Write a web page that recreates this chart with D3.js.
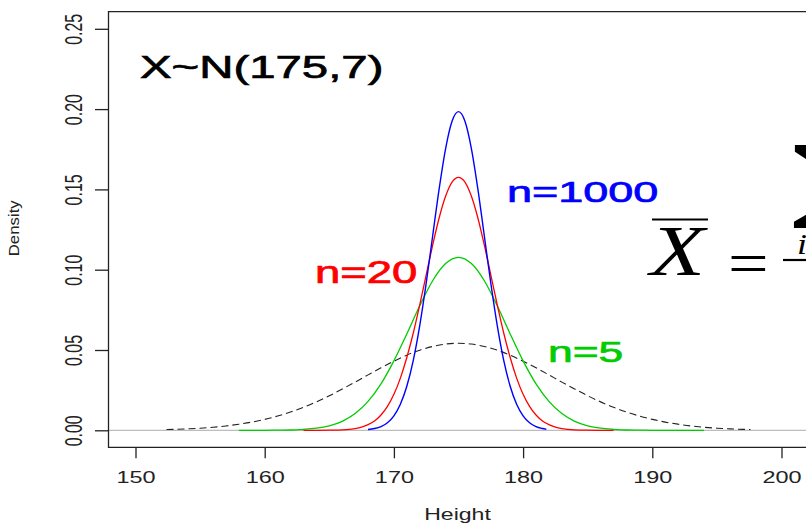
<!DOCTYPE html>
<html>
<head>
<meta charset="utf-8">
<script src="https://cdn.jsdelivr.net/npm/d3@7"></script>
<style>
  html, body { margin: 0; padding: 0; background: #fff; overflow: hidden; }
  svg { display: block; }
</style>
</head>
<body>
<script>
// ---------- data ----------
const xTicks = [150, 160, 170, 180, 190, 200];
const yTicks = [0, 0.05, 0.10, 0.15, 0.20, 0.25];
const yTickLabels = ["0.00", "0.05", "0.10", "0.15", "0.20", "0.25"];

// population X ~ N(175,7) (black dashed)
const popX = [152.4,153,154,155,156,157,158,159,160,161,162,163,164,165,166,167,168,169,170,171,172,173,174,175,
              176,177,178,179,180,181,182,183,184,185,186,187,188,189,190,191,192,193,194,195,196,197,197.6];
const popY = [0.0005,0.0006,0.0009,0.0013,0.0019,0.0027,0.0038,0.0051,0.0068,0.0089,0.0114,0.0143,0.0177,0.0215,
              0.0257,0.0300,0.0345,0.0389,0.0430,0.0468,0.0499,0.0522,0.0537,0.0542,
              0.0537,0.0522,0.0499,0.0468,0.0430,0.0389,0.0345,0.0300,0.0257,0.0215,0.0177,0.0143,0.0114,0.0089,
              0.0068,0.0051,0.0038,0.0027,0.0019,0.0013,0.0009,0.0006,0.0005];

// sample mean, n = 5 (green)
const n5X = [158,159,160,161,162,163,164,165,166,167,168,169,170,171,172,173,174,175,
             176,177,178,179,180,181,182,183,184,185,186,187,188,189,190,191,192,193,194];
const n5Y = [0.0000,0.0000,0.0000,0.0001,0.0002,0.0006,0.0013,0.0028,0.0056,0.0104,0.0180,0.0289,0.0432,0.0600,
             0.0775,0.0931,0.1038,0.1077,
             0.1038,0.0931,0.0775,0.0600,0.0432,0.0289,0.0180,0.0104,0.0056,0.0028,0.0013,0.0006,0.0002,0.0001,
             0.0000,0.0000,0.0000,0.0000,0.0000];

// sample mean, n = 20 (red)
const n20X = [163,164,165,166,167,167.5,168,168.5,169,169.5,170,170.5,171,171.5,172,172.5,173,173.5,174,174.5,175,
              175.5,176,176.5,177,177.5,178,178.5,179,179.5,180,180.5,181,181.5,182,182.5,183,184,185,186,187];
const n20Y = [0.0000,0.0000,0.0001,0.0003,0.0011,0.0020,0.0035,0.0058,0.0095,0.0149,0.0224,0.0325,0.0453,0.0606,
              0.0781,0.0968,0.1153,0.1322,0.1457,0.1545,0.1575,
              0.1545,0.1457,0.1322,0.1153,0.0968,0.0781,0.0606,0.0453,0.0325,0.0224,0.0149,0.0095,0.0058,0.0035,
              0.0020,0.0011,0.0003,0.0001,0.0000,0.0000];

// sample mean, n = 1000 (blue)
const n1000X = [168,168.5,169,169.5,170,170.5,171,171.5,172,172.5,173,173.5,174,174.5,175,
                175.5,176,176.5,177,177.5,178,178.5,179,179.5,180,180.5,181,181.5,181.8];
const n1000Y = [0.0005,0.0011,0.0023,0.0047,0.0090,0.0162,0.0274,0.0436,0.0652,0.0916,0.1210,0.1502,0.1753,0.1924,0.1984,
                0.1924,0.1753,0.1502,0.1210,0.0916,0.0652,0.0436,0.0274,0.0162,0.0090,0.0047,0.0023,0.0011,0.0006];

const seriesNames = ["population", "n=5", "n=20", "n=1000"];

// ---------- drawing ----------
const W = 806, H = 524;
const svg = d3.select("body").append("svg").attr("width", W).attr("height", H);

const x = d3.scaleLinear().domain([150, 200]).range([135.5, 781.5]);
const y = d3.scaleLinear().domain([0, 0.25]).range([430.3, 28.8]);

const box = { left: 108.5, top: 11.7, bottom: 447.3, right: 840 };
const SANS = "'Liberation Sans', Arial, sans-serif";
const SERIF = "'Liberation Serif', 'Times New Roman', serif";
const axisColor = "#222";

// zero reference line
svg.append("line")
  .attr("x1", box.left).attr("x2", W + 10)
  .attr("y1", y(0)).attr("y2", y(0))
  .attr("stroke", "#bdbdbd").attr("stroke-width", 1.2);

// curves
const line = d3.line().x(d => x(d[0])).y(d => y(d[1])).curve(d3.curveMonotoneX);
const curves = [
  { xs: popX, ys: popY, color: "#222", dash: "7,4", w: 1.1 },
  { xs: n5X, ys: n5Y, color: "#00cc00", dash: null, w: 1.3 },
  { xs: n20X, ys: n20Y, color: "#ff0000", dash: null, w: 1.3 },
  { xs: n1000X, ys: n1000Y, color: "#0000ff", dash: null, w: 1.4 }
];
curves.forEach((c, i) => {
  svg.append("path")
    .datum(c.xs.map((v, k) => [v, c.ys[k]]))
    .attr("class", "series-" + i)
    .attr("fill", "none")
    .attr("stroke", c.color)
    .attr("stroke-width", c.w)
    .attr("stroke-dasharray", c.dash)
    .attr("d", line);
});

// box (left, top, bottom)
svg.append("path")
  .attr("d", `M${box.right},${box.top}H${box.left}V${box.bottom}H${box.right}`)
  .attr("fill", "none").attr("stroke", axisColor).attr("stroke-width", 1.3);

// x axis
const xAxis = d3.axisBottom(x).tickValues(xTicks).tickSize(11).tickSizeOuter(0).tickFormat(d3.format("d"));
const gx = svg.append("g").attr("transform", `translate(0,${box.bottom})`).call(xAxis);
gx.select(".domain").remove();
gx.selectAll(".tick line").attr("stroke", axisColor).attr("stroke-width", 1.3);
gx.selectAll(".tick text")
  .attr("y", null).attr("dy", null)
  .attr("transform", "translate(0,36) scale(1.42,1)")
  .attr("font-family", SANS).attr("font-size", 16.5).attr("fill", "#222")
  .attr("text-anchor", "middle");

// y axis
const yAxis = d3.axisLeft(y).tickValues(yTicks).tickSize(13.5).tickSizeOuter(0)
  .tickFormat((d, i) => yTickLabels[i]);
const gy = svg.append("g").attr("transform", `translate(${box.left},0)`).call(yAxis);
gy.select(".domain").remove();
gy.selectAll(".tick line").attr("stroke", axisColor).attr("stroke-width", 1.3);
gy.selectAll(".tick text")
  .attr("x", null).attr("dy", null)
  .attr("transform", "translate(-27,0) rotate(-90) scale(1,1.55)")
  .attr("font-family", SANS).attr("font-size", 16).attr("fill", "#222")
  .attr("text-anchor", "middle");

// axis titles
svg.append("text").text("Height")
  .attr("transform", `translate(${x(175) - 1},519.5) scale(1.46,1)`)
  .attr("text-anchor", "middle").attr("font-family", SANS).attr("font-size", 15.8).attr("fill", "#222");
svg.append("text").text("Density")
  .attr("transform", "translate(19,228.3) rotate(-90) scale(1.2,1.05)")
  .attr("text-anchor", "middle").attr("font-family", SANS).attr("font-size", 14).attr("fill", "#222");

// annotations
const ann = [
  { t: "X~N(175,7)", x: 140, y: 78, size: 32, color: "#000", sx: 1.48 },
  { t: "n=1000", x: 507, y: 201.5, size: 30, color: "#0000ff", sx: 1.5 },
  { t: "n=20", x: 315, y: 282.5, size: 30.5, color: "#ff0000", sx: 1.49 },
  { t: "n=5", x: 548, y: 361.5, size: 30, color: "#00cc00", sx: 1.48 }
];
ann.forEach(a => {
  svg.append("text").text(a.t)
    .attr("transform", `translate(${a.x},${a.y}) scale(${a.sx},1)`)
    .attr("font-family", SANS).attr("font-size", a.size).attr("fill", a.color)
    .attr("stroke", a.color).attr("stroke-width", 0.7);
});

// formula  X̄ = Σ X_i / n  (cut at the right edge)
const fm = svg.append("g").attr("class", "formula");
fm.append("text").text("X")
  .attr("transform", "translate(650,275) scale(1.25,1)")
  .attr("font-family", SERIF).attr("font-style", "italic").attr("font-size", 72).attr("fill", "#000");
fm.append("line").attr("x1", 652).attr("x2", 708).attr("y1", 219.5).attr("y2", 219.5)
  .attr("stroke", "#000").attr("stroke-width", 2.2);
fm.append("text").text("=")
  .attr("transform", "translate(728,283) scale(1.2,1)")
  .attr("font-family", SERIF).attr("font-size", 60).attr("fill", "#000");
fm.append("text").text("Σ")
  .attr("transform", "translate(786,228) scale(1.9,1)")
  .attr("font-family", SERIF).attr("font-weight", "bold").attr("font-size", 128).attr("fill", "#000");
fm.append("text").text("i")
  .attr("transform", "translate(797,254) scale(1.2,1)")
  .attr("font-family", SERIF).attr("font-style", "italic").attr("font-size", 30).attr("fill", "#000");
fm.append("line").attr("x1", 783).attr("x2", 815).attr("y1", 260).attr("y2", 260)
  .attr("stroke", "#000").attr("stroke-width", 2.2);
</script>
</body>
</html>
